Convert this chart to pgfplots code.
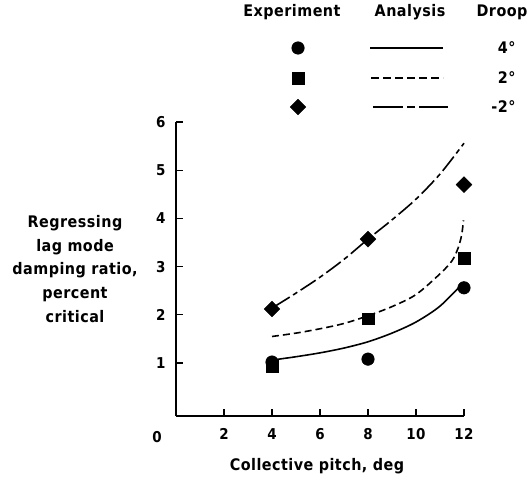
\documentclass[border=0pt]{standalone}
\usepackage{fontspec}
\setmainfont{DejaVu Sans Condensed}[LetterSpace=3]
\usepackage{pgfplots}
\pgfplotsset{compat=1.18}
\begin{document}
\fontsize{16}{24}\selectfont\bfseries
\begin{tikzpicture}[every node/.style={font=\fontsize{16}{24}\selectfont\bfseries}]
\useasboundingbox (0,0) rectangle (529bp,-480bp);
\begin{axis}[
  at={(176bp,-416bp)}, anchor=south west,
  scale only axis, width=288bp, height=294bp,
  xmin=0, xmax=12, ymin=-0.1, ymax=6,
  axis lines=left, axis line style={-, line width=1.5pt},
  xtick={2,4,6,8,10,12}, ytick={1,2,3,4,5,6},
  tick align=inside, major tick length=7bp,
  tick style={line width=1.3pt, black},
  /pgf/number format/assume math mode=true,
  ticklabel style={font=\fontsize{15}{16}\selectfont\bfseries},
  xticklabel style={yshift=-7bp},
  yticklabel style={xshift=-5bp},
  clip=false,
]
% Analysis curves
\addplot[line width=1.6pt, smooth] coordinates {(4,1.06)(5,1.13)(6,1.21)(7,1.31)(8,1.44)(9,1.62)(10,1.85)(11,2.18)(12,2.68)};
\addplot[line width=1.6pt, smooth, dash pattern=on 7bp off 4bp] coordinates {(4,1.55)(5,1.62)(6,1.71)(7,1.82)(8,1.98)(9,2.17)(10,2.42)(11,2.85)(11.5,3.12)(11.75,3.38)(11.9,3.65)(11.98,3.96)};
\addplot[line width=1.6pt, smooth, dash pattern=on 18bp off 4bp on 5bp off 4bp] coordinates {(4.1,2.17)(5,2.45)(6,2.78)(7,3.15)(8,3.57)(9,3.97)(10,4.4)(11,4.92)(12,5.56)};
% Experiment
\addplot[only marks, mark=*, mark size=6.3bp] coordinates {(4,1.02)(8,1.08)(12,2.56)};
\addplot[only marks, mark=square*, mark size=5.8bp] coordinates {(4,0.93)(8,1.92)(12,3.17)};
\addplot[only marks, mark=square*, mark options={rotate=45}, mark size=5.6bp] coordinates {(4,2.12)(8,3.57)(12,4.70)};
\end{axis}
% legend overlay
\begin{axis}[
  at={(0,0)}, anchor=north west,
  scale only axis, width=529bp, height=480bp,
  xmin=0, xmax=529, ymin=-480, ymax=0,
  hide axis, clip=false,
]
\addplot[only marks, mark=*, mark size=6.3bp] coordinates {(298,-48)};
\addplot[only marks, mark=square*, mark size=5.8bp] coordinates {(298,-78)};
\addplot[only marks, mark=square*, mark options={rotate=45}, mark size=5.6bp] coordinates {(298,-107)};
\addplot[line width=1.5pt] coordinates {(370,-48)(443,-48)};
\addplot[line width=1.5pt, dash pattern=on 8bp off 4bp] coordinates {(371,-78)(443,-78)};
\addplot[line width=1.5pt, dash pattern=on 30bp off 4bp on 8bp off 4bp on 31bp] coordinates {(373,-107)(448,-107)};
\node at (axis cs:292,-12) {Experiment};
\node at (axis cs:410,-12) {Analysis};
\node at (axis cs:502,-12) {Droop};
\node[anchor=east] at (axis cs:521,-48) {4°};
\node[anchor=east] at (axis cs:521,-78) {2°};
\node[anchor=east] at (axis cs:521,-107) {-2°};
\node[font=\fontsize{15}{16}\selectfont\bfseries] at (axis cs:157,-437) {0};
\node at (axis cs:317,-466) {Collective pitch, deg};
\node[align=center] at (axis cs:75,-269) {Regressing\\lag mode\\damping ratio,\\percent\\critical};
\end{axis}
\end{tikzpicture}
\end{document}
